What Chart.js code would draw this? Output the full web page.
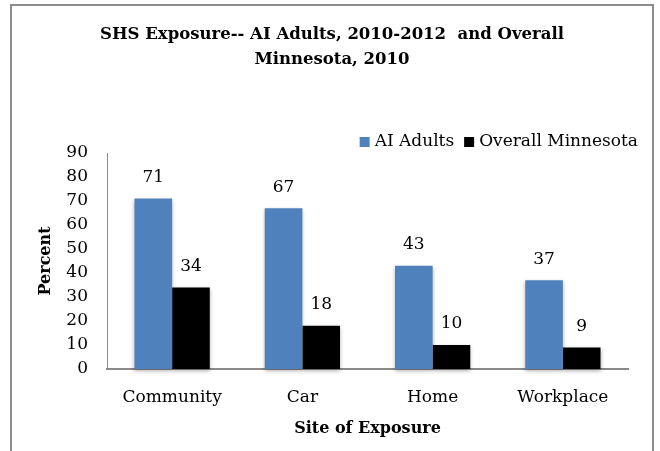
<!DOCTYPE html>
<html>
<head>
<meta charset="utf-8">
<script src="https://cdn.jsdelivr.net/npm/chart.js@4.4.0/dist/chart.umd.min.js"></script>
<style>
  body { margin: 0; background: #fff; }
  #frame {
    position: absolute; left: 10px; top: 4px;
    width: 640px; height: 460px;
    border: 2px solid #8c8c8c; border-bottom: none;
  }
  canvas { display: block; }
</style>
</head>
<body>
<div id="frame"><canvas id="exposureChart" width="640" height="445"></canvas></div>
<script>
// Sites of second-hand smoke exposure
var sites = ["Community", "Car", "Home", "Workplace"];
var aiAdults = [71, 67, 43, 37];
var overallMinnesota = [34, 18, 10, 9];
var yTicks = [0, 10, 20, 30, 40, 50, 60, 70, 80, 90];

var serif = "'DejaVu Serif', serif";

// soft drop shadow under the bars
var barShadow = {
    id: 'barShadow',
    beforeDatasetsDraw: function (chart) {
        var ctx = chart.ctx;
        ctx.save();
        ctx.shadowColor = 'rgba(0,0,0,0.3)';
        ctx.shadowBlur = 4;
        ctx.shadowOffsetX = 0;
        ctx.shadowOffsetY = 2;
    },
    afterDatasetsDraw: function (chart) {
        chart.ctx.restore();
    }
};

// value labels above each bar
var valueLabels = {
    id: 'valueLabels',
    afterDatasetsDraw: function (chart) {
        var ctx = chart.ctx;
        ctx.save();
        ctx.font = '17px ' + serif;
        ctx.fillStyle = '#000';
        ctx.textAlign = 'center';
        ctx.textBaseline = 'middle';
        chart.data.datasets.forEach(function (ds, i) {
            chart.getDatasetMeta(i).data.forEach(function (bar, j) {
                ctx.fillText(ds.data[j], bar.x, bar.y - 21);
            });
        });
        ctx.restore();
    }
};

// legend in the top right corner, just above the plot
var cornerLegend = {
    id: 'cornerLegend',
    afterDraw: function (chart) {
        var ctx = chart.ctx;
        var right = chart.width - 14;
        var cy = chart.chartArea.top - 11;
        ctx.save();
        ctx.font = '17px ' + serif;
        ctx.textBaseline = 'middle';
        ctx.textAlign = 'left';
        var items = chart.data.datasets.map(function (ds) {
            return { text: ds.label, color: ds.backgroundColor, w: 10 + 5 + ctx.measureText(ds.label).width };
        });
        var total = items.reduce(function (s, it) { return s + it.w; }, 0) + 10 * (items.length - 1);
        var x = right - total;
        items.forEach(function (it) {
            ctx.fillStyle = it.color;
            ctx.fillRect(x, cy - 5, 10, 10);
            ctx.fillStyle = '#000';
            ctx.fillText(it.text, x + 15, cy);
            x += it.w + 10;
        });
        ctx.restore();
    }
};

var data = {
    labels: sites,
    datasets: [{
        label: 'AI Adults',
        data: aiAdults,
        backgroundColor: '#4F81BD',
        borderWidth: 0,
        clip: false
    }, {
        label: 'Overall Minnesota',
        data: overallMinnesota,
        backgroundColor: '#000000',
        borderWidth: 0,
        clip: false
    }]
};

var titleSize = 16.5;
var titleLineHeight = 25 / titleSize;

var options = {
    responsive: false,
    animation: false,
    layout: { padding: 0 },
    categoryPercentage: 0.578,
    barPercentage: 1.0,
    scales: {
        x: {
            grid: { display: false, drawTicks: false },
            border: { display: true, color: '#8a8a8a', width: 2 },
            ticks: { color: '#000', padding: 18, font: { family: serif, size: 17 } },
            title: {
                display: true,
                text: 'Site of Exposure',
                color: '#000',
                font: { family: serif, size: 16, weight: 'bold' },
                padding: { top: 13, bottom: 13 }
            },
            afterFit: function (scale) { scale.height = 82; }
        },
        y: {
            min: 0,
            max: 90,
            afterBuildTicks: function (scale) {
                scale.ticks = yTicks.map(function (v) { return { value: v }; });
            },
            grid: { display: false, drawTicks: false },
            border: { display: true, color: '#8a8a8a', width: 1 },
            ticks: { color: '#000', padding: 19, autoSkip: false, font: { family: serif, size: 17 } },
            title: {
                display: true,
                text: 'Percent',
                color: '#000',
                font: { family: serif, size: 16, weight: 'bold' },
                padding: { top: 24, bottom: 24 }
            },
            afterFit: function (scale) { scale.width = 95; }
        },
        // blank strip on the right, keeps the title centred on the whole frame
        yRight: {
            position: 'right',
            display: true,
            grid: { display: false },
            border: { display: false },
            ticks: { display: false },
            afterFit: function (scale) { scale.width = 24; }
        }
    },
    plugins: {
        title: {
            display: true,
            text: ['SHS Exposure-- AI Adults, 2010-2012  and Overall', 'Minnesota, 2010'],
            color: '#000',
            font: { family: serif, size: titleSize, weight: 'bold', lineHeight: titleLineHeight },
            padding: { top: 16, bottom: 147 - 16 - 50 }
        },
        legend: { display: false },
        tooltip: { enabled: false }
    }
};

var ctx = document.getElementById('exposureChart').getContext('2d');
var exposureChart = new Chart(ctx, {
    type: 'bar',
    data: data,
    options: options,
    plugins: [barShadow, valueLabels, cornerLegend]
});
</script>
</body>
</html>
